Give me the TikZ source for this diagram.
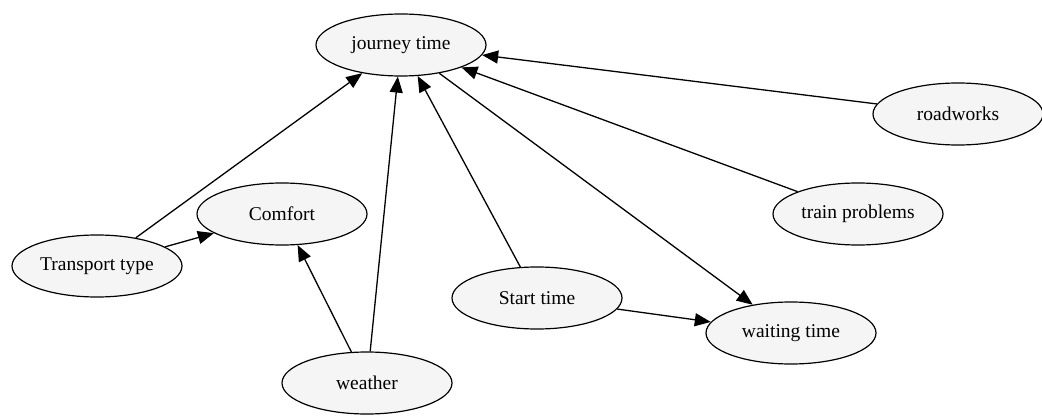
\documentclass[tikz,border=0pt]{standalone}
\usepackage{fontspec}
\setmainfont{Liberation Serif}
\usetikzlibrary{shapes.geometric,arrows.meta}
\definecolor{nodefill}{HTML}{F5F5F5}
\begin{document}
\begin{tikzpicture}[x=1pt,y=-1pt,
  var/.style={ellipse,draw=black,fill=nodefill,line width=1.2pt,
    minimum width=170pt,minimum height=62pt,inner sep=0pt,
    font=\fontsize{19.5}{22}\selectfont},
  link/.style={draw=black,line width=1.3pt,
    -{Triangle[length=16pt,width=13pt]}}]
  \useasboundingbox (0,0) rectangle (1042,417);
  % variables
  \node[var] (journey) at (401,45) {journey time};
  \node[var] (road)    at (958,114) {roadworks};
  \node[var] (comfort) at (282,214) {Comfort};
  \node[var] (train)   at (858,214) {train problems};
  \node[var] (trans)   at (97,266) {Transport type};
  \node[var] (start)   at (537,298) {Start time};
  \node[var] (wait)    at (791,333) {waiting time};
  \node[var] (weather) at (367,383) {weather};
  % influences
  \draw[link] (trans) -- (journey);
  \draw[link] (trans) -- (comfort);
  \draw[link] (weather) -- (comfort);
  \draw[link] (weather) -- (journey);
  \draw[link] (start) -- (journey);
  \draw[link] (start) -- (wait);
  \draw[link] (journey) -- (wait);
  \draw[link] (train) -- (journey);
  \draw[link] (road) -- (journey);
\end{tikzpicture}
\end{document}
